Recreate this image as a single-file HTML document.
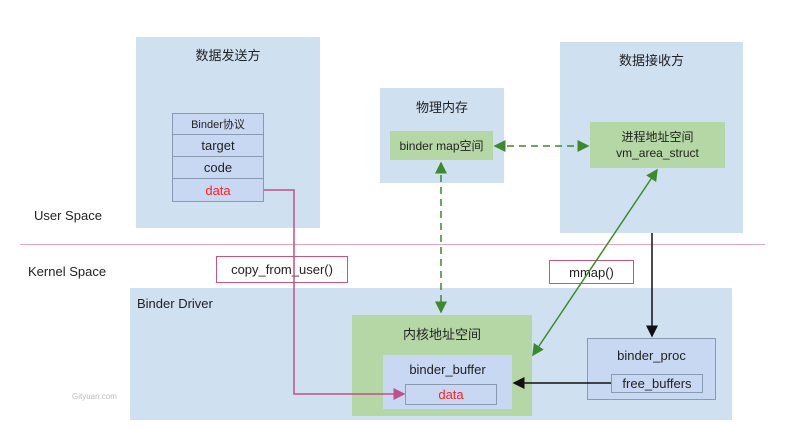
<!DOCTYPE html>
<html><head><meta charset="utf-8"><style>
body{margin:0;width:795px;height:429px;background:#fff;position:relative;overflow:hidden;font-family:"Liberation Sans","Noto Sans CJK SC",sans-serif;color:#222}
.b{position:absolute;box-sizing:border-box}
.blue{background:#cfe0f1}
.g{background:#b5d7a6}
.c{display:flex;align-items:center;justify-content:center;text-align:center}
.t{position:absolute;font-size:13px}
</style></head><body>
<div class="b blue" style="left:136px;top:37px;width:184px;height:191px"></div>
<div class="t" style="left:136px;width:184px;top:45px;text-align:center">数据发送方</div>
<div class="b" style="left:172px;top:113px;width:92px;height:89px;border:1px solid #8a9ab0;background:#c8d8f2"></div>
<div class="b c" style="left:172px;top:113px;width:92px;height:22px;border-bottom:1px solid #8a9ab0;font-size:11px">Binder协议</div>
<div class="b c" style="left:172px;top:135px;width:92px;height:22px;border-bottom:1px solid #8a9ab0;font-size:13px">target</div>
<div class="b c" style="left:172px;top:157px;width:92px;height:22px;border-bottom:1px solid #8a9ab0;font-size:13px">code</div>
<div class="b c" style="left:172px;top:179px;width:92px;height:22px;font-size:13px;color:#f22">data</div>

<div class="b blue" style="left:380px;top:88px;width:124px;height:95px"></div>
<div class="t" style="left:380px;width:124px;top:97px;text-align:center">物理内存</div>
<div class="b g c" style="left:390px;top:131px;width:103px;height:29px;font-size:12px">binder map空间</div>

<div class="b blue" style="left:560px;top:42px;width:183px;height:191px"></div>
<div class="t" style="left:560px;width:183px;top:50px;text-align:center">数据接收方</div>
<div class="b g c" style="left:590px;top:122px;width:135px;height:46px;font-size:12px;line-height:16px">进程地址空间<br>vm_area_struct</div>

<div class="t" style="left:34px;top:208px">User Space</div>
<div class="b" style="left:20px;top:244px;width:745px;height:1px;background:#e7a9bb"></div>
<div class="t" style="left:28px;top:264px">Kernel Space</div>
<div class="b c" style="left:216px;top:256px;width:132px;height:27px;border:1px solid #c8557a;background:#fff;font-size:13px">copy_from_user()</div>
<div class="b c" style="left:549px;top:260px;width:85px;height:24px;border:1px solid #c8557a;background:#fff;font-size:13px">mmap()</div>

<div class="b blue" style="left:130px;top:288px;width:602px;height:132px"></div>
<div class="t" style="left:137px;top:296px">Binder Driver</div>
<div class="t" style="left:72px;top:392px;font-size:8px;color:#bbb">Gityuan.com</div>
<div class="b g" style="left:352px;top:315px;width:180px;height:101px"></div>
<div class="t" style="left:352px;width:180px;top:324px;text-align:center">内核地址空间</div>
<div class="b" style="left:383px;top:355px;width:129px;height:54px;background:#c8d8f2"></div>
<div class="t" style="left:383px;width:129px;top:362px;text-align:center">binder_buffer</div>
<div class="b c" style="left:405px;top:384px;width:92px;height:21px;border:1px solid #8a9ab0;font-size:13px;color:#f22">data</div>

<div class="b" style="left:587px;top:338px;width:129px;height:62px;border:1px solid #8a9ab0;background:#c8d8f2"></div>
<div class="t" style="left:587px;width:129px;top:348px;text-align:center">binder_proc</div>
<div class="b c" style="left:611px;top:374px;width:92px;height:19px;border:1px solid #8a9ab0;font-size:13px">free_buffers</div>

<svg class="b" style="left:0;top:0" width="795" height="429">
<defs>
<marker id="gm" markerWidth="8" markerHeight="8" refX="7" refY="4" orient="auto-start-reverse"><path d="M0,0 L8,4 L0,8 z" fill="#3d8a2a"/></marker>
<marker id="km" markerWidth="8" markerHeight="8" refX="7" refY="4" orient="auto-start-reverse"><path d="M0,0 L8,4 L0,8 z" fill="#111"/></marker>
<marker id="pm" markerWidth="8" markerHeight="8" refX="7" refY="4" orient="auto"><path d="M0,0 L8,4 L0,8 z" fill="#c0508a"/></marker>
</defs>
<path d="M264,190 H294 V394 H404" fill="none" stroke="#c0508a" stroke-width="1.5" marker-end="url(#pm)"/>
<line x1="441" y1="163" x2="441" y2="312" stroke="#3d8a2a" stroke-width="1.5" stroke-dasharray="7,5" marker-start="url(#gm)" marker-end="url(#gm)"/>
<line x1="495" y1="146" x2="588" y2="146" stroke="#3d8a2a" stroke-width="1.5" stroke-dasharray="7,5" marker-start="url(#gm)" marker-end="url(#gm)"/>
<line x1="533" y1="355" x2="657" y2="170" stroke="#3d8a2a" stroke-width="1.5" marker-start="url(#gm)" marker-end="url(#gm)"/>
<line x1="652" y1="233" x2="652" y2="336" stroke="#111" stroke-width="1.5" marker-end="url(#km)"/>
<line x1="611" y1="383" x2="514" y2="383" stroke="#111" stroke-width="1.5" marker-end="url(#km)"/>
</svg>
</body></html>
